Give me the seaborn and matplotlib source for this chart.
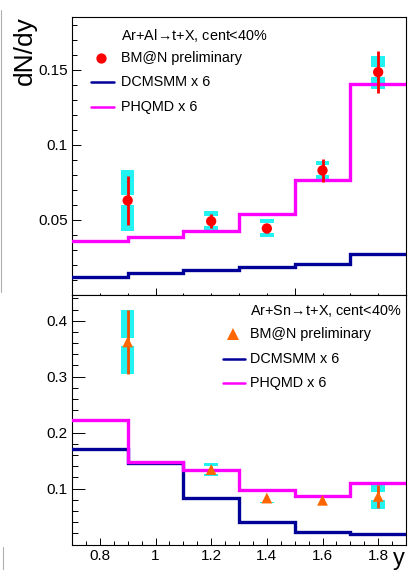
import matplotlib
matplotlib.use("Agg")
import matplotlib.pyplot as plt
import seaborn as sns
import numpy as np
from matplotlib.lines import Line2D
from matplotlib.ticker import MultipleLocator

# ---- data -------------------------------------------------------------
bin_edges = [0.7, 0.9, 1.1, 1.3, 1.5, 1.7, 1.9]
point_y = [0.9, 1.2, 1.4, 1.6, 1.8]

# Ar+Al -> t+X
al_dcmsmm = [0.0118, 0.0145, 0.0169, 0.0187, 0.0209, 0.0271]
al_phqmd = [0.0362, 0.0389, 0.0427, 0.0538, 0.0767, 0.1403]
al_data = [0.0629, 0.0491, 0.0443, 0.0829, 0.1483]
al_stat = [0.0160, 0.0045, 0.0030, 0.0078, 0.0142]
al_sys = [0.0200, 0.0070, 0.0060, 0.0060, 0.0110]

# Ar+Sn -> t+X
sn_dcmsmm = [0.1706, 0.1463, 0.0828, 0.0400, 0.0229, 0.0180]
sn_phqmd = [0.2220, 0.1475, 0.1338, 0.0982, 0.0875, 0.1107]
sn_data = [0.362, 0.134, 0.083, 0.079, 0.086]
sn_stat = [0.057, 0.006, 0.004, 0.003, 0.020]
sn_sys = [0.057, 0.012, 0.008, 0.004, 0.022]

top_yticks = [0.05, 0.1, 0.15]
top_yticklabels = ["0.05", "0.1", "0.15"]
bot_yticks = [0.1, 0.2, 0.3, 0.4]
bot_yticklabels = ["0.1", "0.2", "0.3", "0.4"]
bot_xticks = [0.8, 1.0, 1.2, 1.4, 1.6, 1.8]
bot_xticklabels = ["0.8", "1", "1.2", "1.4", "1.6", "1.8"]

# ---- style ------------------------------------------------------------
sns.set_style("white")
plt.rcParams['font.family'] = ['Liberation Sans', 'DejaVu Sans']
plt.rcParams['text.color'] = 'black'
plt.rcParams['xtick.color'] = 'black'
plt.rcParams['ytick.color'] = 'black'
plt.rcParams['axes.edgecolor'] = 'black'
plt.rcParams['mathtext.fontset'] = 'custom'
plt.rcParams['mathtext.rm'] = 'Liberation Sans'

C_DCM = '#000099'
C_PHQ = '#ff00ff'
C_SYS = '#22f2f2'
C_RED = '#ff0000'
C_ORG = '#ff6600'
C_ORG_LINE = '#f05000'

W, H = 413, 570
fig = plt.figure(figsize=(W / 100, H / 100), dpi=100)


def fx(px):
    return px / W


def fy(py):
    return 1 - py / H


ax_top = fig.add_axes([fx(72), fy(295), 334 / W, 278 / H])
ax_bot = fig.add_axes([fx(72), fy(544.5), 334 / W, 249.5 / H])


def draw_panel(ax, dcm, phq, data, stat, sys, marker, mcolor, scolor, msize,
               gap_px, px_per_unit):
    # model histograms as step lines
    for vals, col in ((dcm, C_DCM), (phq, C_PHQ)):
        sns.lineplot(x=bin_edges, y=list(vals) + [vals[-1]], estimator=None,
                     drawstyle='steps-post', color=col, lw=2.4, ax=ax,
                     zorder=3, solid_joinstyle='miter')
    data = np.array(data)
    stat = np.array(stat)
    sys = np.array(sys)
    # systematic boxes
    ax.bar(point_y, 2 * sys, bottom=data - sys, width=0.048, color=C_SYS,
           linewidth=0, zorder=2)
    gap = gap_px / px_per_unit
    gap = np.minimum(gap, 2 * sys)
    ax.bar(point_y, gap, bottom=data - gap / 2, width=0.052, color='white',
           linewidth=0, zorder=2.2)
    # statistical errors
    ax.vlines(point_y, data - stat, data + stat, color=scolor, lw=2.0,
              zorder=4)
    sns.scatterplot(x=point_y, y=data, marker=marker, s=msize, color=mcolor,
                    edgecolor='none', linewidth=0, ax=ax, zorder=5)


draw_panel(ax_top, al_dcmsmm, al_phqmd, al_data, al_stat, al_sys, 'o', C_RED,
           C_RED, 55, 10, 278 / 0.185)
draw_panel(ax_bot, sn_dcmsmm, sn_phqmd, sn_data, sn_stat, sn_sys, '^', C_ORG,
           C_ORG_LINE, 60, 8, 249.5 / 0.446)

for ax in (ax_top, ax_bot):
    ax.set_xlim(0.7, 1.9)
    ax.set_xlabel("")
    ax.set_ylabel("")
    for s in ax.spines.values():
        s.set_color('black')
        s.set_linewidth(0.8)
    ax.tick_params(which='both', direction='in', left=True, bottom=True,
                   top=False, right=False, width=0.7, color='black',
                   labelsize=11, labelcolor='black')

ax_top.set_ylim(0.0, 0.185)
ax_top.set_yticks(top_yticks)
ax_top.set_yticklabels(top_yticklabels)
ax_top.yaxis.set_minor_locator(MultipleLocator(0.01))
ax_top.set_xticks([1.0, 1.5])
ax_top.set_xticklabels([])
ax_top.xaxis.set_minor_locator(MultipleLocator(0.1))
ax_top.tick_params(axis='y', which='major', length=6.5, pad=3)
ax_top.tick_params(axis='y', which='minor', length=3.6)
ax_top.tick_params(axis='x', which='major', length=5)
ax_top.tick_params(axis='x', which='minor', length=1.8)

ax_bot.set_ylim(0.0, 0.446)
ax_bot.set_yticks(bot_yticks)
ax_bot.set_yticklabels(bot_yticklabels)
ax_bot.yaxis.set_minor_locator(MultipleLocator(0.02))
ax_bot.set_xticks(bot_xticks)
ax_bot.set_xticklabels(bot_xticklabels)
ax_bot.xaxis.set_minor_locator(MultipleLocator(0.05))
ax_bot.tick_params(axis='y', which='major', length=9.4, pad=3)
ax_bot.tick_params(axis='y', which='minor', length=4.3)
ax_bot.tick_params(axis='x', which='major', length=5, pad=3.5)
ax_bot.tick_params(axis='x', which='minor', length=2.9)

# ---- legends ----------------------------------------------------------
LFS = 10.4


def legend_block(x_handle, x_line0, x_line1, x_text, y_head, y_rows,
                 header, marker, mcolor, msize):
    fig.text(fx(x_text), fy(y_head), header, ha='left', va='center',
             fontsize=LFS)
    fig.add_artist(Line2D([fx(x_handle)], [fy(y_rows[0])], marker=marker,
                          markersize=msize, color=mcolor, linestyle='none',
                          markeredgewidth=0))
    fig.text(fx(x_text), fy(y_rows[0]), "BM@N preliminary", ha='left',
             va='center', fontsize=LFS)
    for yy, col, lab in ((y_rows[1], C_DCM, "DCMSMM x 6"),
                         (y_rows[2], C_PHQ, "PHQMD x 6")):
        fig.add_artist(Line2D([fx(x_line0), fx(x_line1)], [fy(yy), fy(yy)],
                              color=col, lw=1.8))
        fig.text(fx(x_text), fy(yy), lab, ha='left', va='center',
                 fontsize=LFS)


legend_block(100.7, 91, 114, 120.7, 35, (58, 82, 107),
             r"Ar+Al$\!\rightarrow\!$t+X, cent<40%", 'o', C_RED, 7.4)
legend_block(233, 222.7, 245, 250.5, 311, (334, 359, 383),
             r"Ar+Sn$\!\rightarrow\!$t+X, cent<40%", '^', C_ORG, 8)

# ---- axis titles ------------------------------------------------------
fig.text(fx(25), fy(16), "dN/dy", rotation=90, ha='center', va='top',
         fontsize=19)
fig.text(fx(399), fy(565), "y", ha='center', va='baseline', fontsize=17)

# thin frame remnants at the left edge
fig.add_artist(Line2D([fx(1), fx(1)], [fy(10), fy(292)], color='#b0b0b0',
                      lw=0.8))
fig.add_artist(Line2D([fx(3), fx(3)], [fy(547), fy(570)], color='#b0b0b0',
                      lw=0.8))

fig.savefig("out.png", dpi=100)
